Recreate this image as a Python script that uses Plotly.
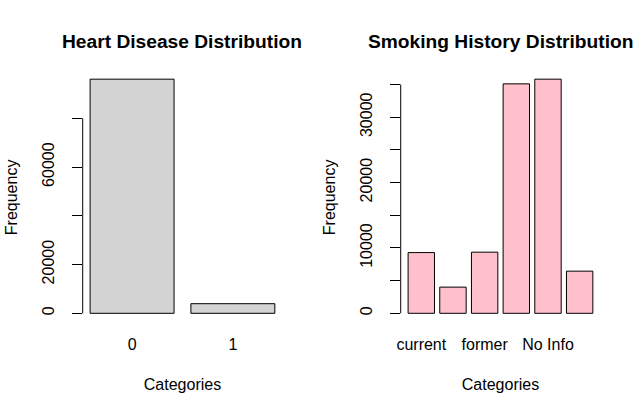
import plotly.graph_objects as go

# ── Data ─────────────────────────────────────────────────────────────────────
heart_cats = ["0", "1"]
heart_counts = [96058, 3942]
heart_ticks = [0, 20000, 40000, 60000, 80000]
heart_tick_labels = ["0", "20000", "", "60000", ""]

smoke_cats = ["current", "ever", "former", "never", "No Info", "not current"]
smoke_counts = [9286, 4004, 9352, 35095, 35816, 6447]
smoke_cat_labels = ["current", "", "former", "", "No Info", ""]
smoke_ticks = [0, 5000, 10000, 15000, 20000, 25000, 30000, 35000]
smoke_tick_labels = ["0", "", "10000", "", "20000", "", "30000", ""]

FONT = "Liberation Sans, Arial, sans-serif"
W, H = 640, 414


def y_range(vals):
    # mimic R barplot: ylim = range(-0.01*max, max), then 4% padding
    lo, hi = -0.01 * max(vals), max(vals)
    pad = 0.04 * (hi - lo)
    return [lo - pad, hi + pad]


def x_range(n):
    # R bars: width 1, space 0.2 -> centres 1.2 apart, 4% padding each side
    span = 1.2 * n - 0.2
    pad = 0.04 * span
    return [(0.2 - pad - 0.7) / 1.2, (0.2 + span + pad - 0.7) / 1.2]


fig = go.Figure()

fig.add_trace(go.Bar(
    x=heart_cats, y=heart_counts, xaxis="x", yaxis="y",
    marker=dict(color="#D3D3D3", line=dict(color="black", width=1)),
    showlegend=False,
))
fig.add_trace(go.Bar(
    x=smoke_cats, y=smoke_counts, xaxis="x2", yaxis="y2",
    marker=dict(color="#FFC0CB", line=dict(color="black", width=1)),
    showlegend=False,
))

y_dom = [(H - 325.1) / H, (H - 69.7) / H]
left_dom = [79.2 / W, 280 / W]
right_dom = [399.2 / W, 600 / W]

xaxis_common = dict(showline=False, showgrid=False, zeroline=False, ticks="",
                    tickfont=dict(size=16, color="black"), ticklabelstandoff=8,
                    title=dict(text="Categories", font=dict(size=16, color="black"),
                               standoff=26))
yaxis_common = dict(showline=False, showgrid=False, zeroline=False,
                    ticks="outside", ticklen=10, tickwidth=1, tickcolor="black",
                    tickangle=-90, tickfont=dict(size=16, color="black"),
                    ticklabelstandoff=11,
                    title=dict(text="Frequency", font=dict(size=16, color="black"),
                               standoff=18))

fig.update_layout(
    width=W, height=H,
    margin=dict(l=0, r=0, t=0, b=0),
    plot_bgcolor="white", paper_bgcolor="white",
    font=dict(family=FONT, color="black"),
    bargap=1 / 6,
    xaxis=dict(domain=left_dom, anchor="y", range=x_range(len(heart_cats)),
               tickvals=heart_cats, ticktext=heart_cats, **xaxis_common),
    yaxis=dict(domain=y_dom, anchor="x", range=y_range(heart_counts),
               tickvals=heart_ticks, ticktext=heart_tick_labels, **yaxis_common),
    xaxis2=dict(domain=right_dom, anchor="y2", range=x_range(len(smoke_cats)),
                tickvals=smoke_cats, ticktext=smoke_cat_labels, **xaxis_common),
    yaxis2=dict(domain=y_dom, anchor="x2", range=y_range(smoke_counts),
                tickvals=smoke_ticks, ticktext=smoke_tick_labels, **yaxis_common),
)

# R-style axis lines spanning only the first to last tick
for xref, yref, ticks in [("x domain", "y", heart_ticks), ("x2 domain", "y2", smoke_ticks)]:
    fig.add_shape(type="line", xref=xref, yref=yref, x0=0, x1=0,
                  y0=ticks[0], y1=ticks[-1], line=dict(color="black", width=1))

# panel titles
for dom, text in [(left_dom, "Heart Disease Distribution"),
                  (right_dom, "Smoking History Distribution")]:
    fig.add_annotation(text="<b>%s</b>" % text, xref="paper", yref="paper",
                       x=(dom[0] + dom[1]) / 2, y=(H - 41) / H,
                       xanchor="center", yanchor="middle", showarrow=False,
                       font=dict(size=19.2, color="black", family=FONT))

fig.write_html("out.html", config={"displayModeBar": False},
               post_script="document.body.style.margin='0px';")
